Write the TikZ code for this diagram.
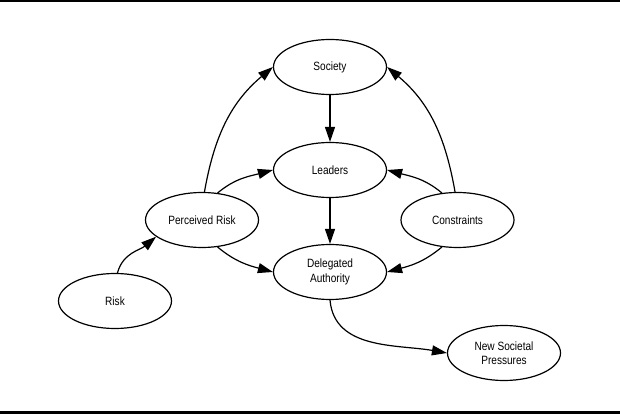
\documentclass[tikz,border=0pt]{standalone}
\usepackage{fontspec}
\setmainfont[FakeStretch=0.84]{Liberation Sans}
\usetikzlibrary{shapes.geometric,arrows.meta}

\begin{document}
\begin{tikzpicture}[x=1pt,y=1pt,
  oval/.style={ellipse,draw,line width=1.2pt,minimum width=113pt,minimum height=55pt,
    inner sep=0pt,align=center,font=\fontsize{12}{14.5}\selectfont},
  flow/.style={line width=1.2pt,-{Triangle[length=15pt,width=10pt]}}]
\useasboundingbox (0,0) rectangle (620,414);
\fill (0,412) rectangle (620,414);
\fill (0,0) rectangle (620,3);
\node[oval] (soc) at (330,347) {Society};
\node[oval] (lead) at (330,244) {Leaders};
\node[oval] (dele) at (330,142) {Delegated\\Authority};
\node[oval] (pr) at (202,194) {Perceived Risk};
\node[oval] (con) at (457.5,194) {Constraints};
\node[oval] (risk) at (115,113) {Risk};
\node[oval] (nsp) at (504,61) {New Societal\\Pressures};
\draw[flow] (soc) -- (lead);
\draw[flow] (lead) -- (dele);
\draw[flow] (pr.85) to[out=80,in=220] (soc.west);
\draw[flow] (pr.60) to[out=40,in=195] (lead.west);
\draw[flow] (pr.-60) to[out=-40,in=165] (dele.west);
\draw[flow] (risk.85) to[out=75,in=220] (pr.200);
\draw[flow] (con.95) to[out=100,in=-40] (soc.east);
\draw[flow] (con.120) to[out=140,in=-15] (lead.east);
\draw[flow] (con.240) to[out=-140,in=15] (dele.east);
\draw[flow] (dele.south) to[out=-85,in=170] (nsp.west);
\end{tikzpicture}
\end{document}
